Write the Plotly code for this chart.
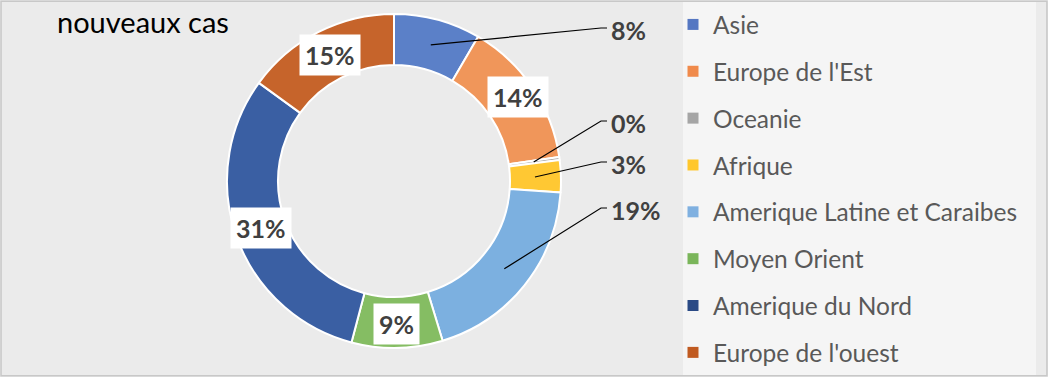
import math
import plotly.graph_objects as go

# ---------------- data ----------------
categories = ["Asie", "Europe de l'Est", "Oceanie", "Afrique",
              "Amerique Latine et Caraibes", "Moyen Orient",
              "Amerique du Nord", "Europe de l'ouest"]
values = [8.4, 14.3, 0.3, 3.1, 19.2, 8.8, 30.9, 15.0]
title_text = "nouveaux cas"

# ---------------- styles / layout ----------------
slice_colors = ["#5b80c8", "#f0965a", "#a5a5a5", "#ffc833",
                "#7cb0e0", "#85bd63", "#3a5fa3", "#c6642b"]
legend_colors = ["#5577c2", "#f08a4b", "#a5a5a5", "#ffc72c",
                 "#7fb0e0", "#7ab55a", "#2a4a85", "#c05a20"]
label_inside = [False, True, False, False, False, True, True, True]
label_radius = [141, 150, 141, 141, 141, 143, 141, 141]
outside_label_y = {0: 30, 2: 123, 3: 164, 4: 210}   # pixel rows of outside labels

W, H = 1048, 377
CX, CY = 394, 181          # donut centre (px)
R_OUT, R_IN = 167, 116     # radii (px)
LABEL_X = 609              # left edge of outside labels
TEXT_COL = "#404040"
LABEL_FONT = dict(family="Lato, Open Sans, sans-serif", size=25, color=TEXT_COL)


def px(x):
    return x / W


def py(y):
    return 1 - y / H


fig = go.Figure()

fig.add_trace(go.Pie(
    labels=categories, values=values,
    hole=R_IN / R_OUT, sort=False, direction="clockwise", rotation=0,
    marker=dict(colors=slice_colors, line=dict(color="white", width=2)),
    textinfo="none", hoverinfo="label+percent", showlegend=False,
    domain=dict(x=[px(CX - R_OUT), px(CX + R_OUT)],
                y=[py(CY + R_OUT), py(CY - R_OUT)]),
))

# legend entries
for cat, col in zip(categories, legend_colors):
    fig.add_trace(go.Scatter(
        x=[None], y=[None], mode="markers", name=cat, legendgroup=cat,
        marker=dict(symbol="square", size=11, color=col), showlegend=True,
        hoverinfo="skip",
    ))

# percentage labels
total = sum(values)
annotations = []
shapes = []
cum = 0.0
for i, v in enumerate(values):
    mid = (cum + v / 2) / total
    cum += v
    theta = 2 * math.pi * mid
    r = label_radius[i]
    ax = CX + r * math.sin(theta)
    ay = CY - r * math.cos(theta)
    pct = round(v / total * 100)
    txt = f"<b>{pct}%</b>"
    if label_inside[i]:
        annotations.append(dict(
            text=txt, x=px(ax), y=py(ay), xref="paper", yref="paper",
            xanchor="center", yanchor="middle",
            showarrow=False, bgcolor="white", borderpad=5, font=LABEL_FONT,
        ))
    else:
        ly = outside_label_y[i]
        annotations.append(dict(
            text=txt, x=px(LABEL_X), y=py(ly), xref="paper", yref="paper",
            xanchor="left", yanchor="middle", showarrow=False, font=LABEL_FONT,
        ))
        path = (f"M {px(ax)},{py(ay)} L {px(LABEL_X - 8)},{py(ly - 2)} "
                f"L {px(LABEL_X - 2)},{py(ly - 2)}")
        shapes.append(dict(type="path", path=path, xref="paper", yref="paper",
                           line=dict(color="black", width=1.2)))

# legend backdrop and frame
shapes.insert(0, dict(type="rect", xref="paper", yref="paper",
                      x0=px(683), x1=px(1036), y0=py(375), y1=py(2),
                      fillcolor="#f5f5f5", line=dict(width=0), layer="below"))
shapes.append(dict(type="rect", xref="paper", yref="paper",
                   x0=0.001, x1=0.999, y0=0.003, y1=0.997,
                   line=dict(color="#c8c8c8", width=1.5), fillcolor="rgba(0,0,0,0)"))

fig.update_layout(
    width=W, height=H,
    margin=dict(l=0, r=0, t=0, b=0),
    paper_bgcolor="#ebebeb", plot_bgcolor="#ebebeb",
    xaxis=dict(visible=False), yaxis=dict(visible=False),
    title=dict(text=title_text, x=px(57), xanchor="left", xref="paper",
               y=py(23), yanchor="middle", yref="container",
               font=dict(family="Lato, sans-serif", size=29, color="black")),
    legend=dict(x=px(673), y=py(2), xanchor="left", yanchor="top",
                xref="paper", yref="paper",
                bgcolor="rgba(0,0,0,0)", tracegroupgap=12,
                font=dict(family="Lato, Open Sans, sans-serif", size=24.5, color="#595959")),
    annotations=annotations, shapes=shapes,
    showlegend=True,
)

fig.write_html("out.html", config={"displayModeBar": False},
               post_script="document.body.style.margin='0';document.body.style.overflow='hidden';")
